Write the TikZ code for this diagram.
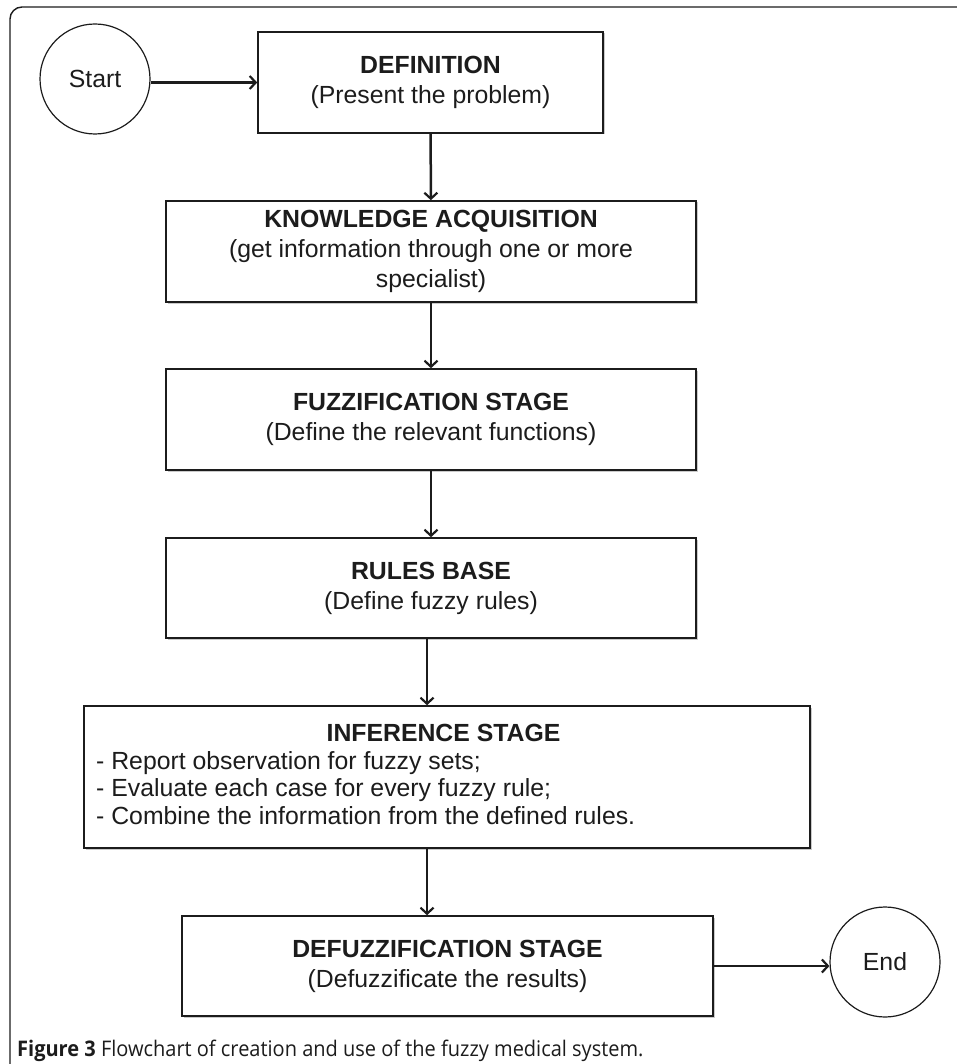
\documentclass[tikz,border=0pt]{standalone}
\usepackage{fontspec}
\setmainfont{Liberation Sans}
\newfontfamily\capfont[FakeStretch=0.93]{Open Sans}
\usetikzlibrary{arrows.meta,shadows,calc}
\definecolor{ink}{HTML}{1C1C1C}
\begin{document}
\begin{tikzpicture}[x=1pt,y=-1pt,
  box/.style={draw=ink, line width=1.6pt, fill=white, align=center, inner sep=0pt, text=ink,
    font=\fontsize{24.8}{30}\selectfont,
    drop shadow={shadow xshift=1.5pt, shadow yshift=-1.5pt, opacity=0.35, fill=black!60}},
  term/.style={circle, draw=ink, line width=1.2pt, minimum size=110pt, inner sep=0pt, text=ink,
    font=\fontsize{24.8}{30}\selectfont},
  arr/.style={draw=ink, line width=2.5pt, -{Straight Barb[length=6pt,width=13pt,line width=2.2pt]}},
  txt/.style={text=ink, inner sep=0pt, font=\fontsize{24.8}{27.5}\selectfont},
]
\useasboundingbox (0,0) rectangle (957,1064);
% outer frame
\draw[ink, line width=1.4pt, rounded corners=12pt] (960,7) -- (10,7) -- (10,1070);

\node[term] (start) at (95,79) {Start};
\node[box, minimum width=345pt, minimum height=101pt] (def) at (430.5,82.5)
  {\textbf{DEFINITION}\\(Present the problem)};
\node[box, minimum width=530pt, minimum height=101pt] (know) at (431,251.5)
  {\textbf{KNOWLEDGE ACQUISITION}\\(get information through one or more\\specialist)};
\node[box, minimum width=530pt, minimum height=101pt] (fuzz) at (431,419.5)
  {\textbf{FUZZIFICATION STAGE}\\(Define the relevant functions)};
\node[box, minimum width=530pt, minimum height=100pt] (rules) at (431,588)
  {\textbf{RULES BASE}\\(Define fuzzy rules)};
\node[box, minimum width=726pt, minimum height=142pt] (inf) at (447,777) {};
\node[txt, font=\fontsize{24.8}{27.5}\selectfont\bfseries] (inftitle) at (443.5,733) {INFERENCE STAGE};
\node[txt, anchor=west, align=left] (inflist) at (96,788)
  {- Report observation for fuzzy sets;\\- Evaluate each case for every fuzzy rule;\\- Combine the information from the defined rules.};
\node[box, minimum width=531pt, minimum height=100pt] (defz) at (447.5,966)
  {\textbf{DEFUZZIFICATION STAGE}\\(Defuzzificate the results)};
\node[term] (end) at (885,962) {End};

\coordinate (col) at (427,0);
\draw[arr] (def.west -| start.east) -- (def.west);
\draw[arr] (def) -- (know);
\draw[arr] (know) -- (fuzz);
\draw[arr] (fuzz) -- (rules);
\draw[arr] (rules.south -| col) -- (inf.north -| col);
\draw[arr] (inf.south -| col) -- (defz.north -| col);
\draw[arr] (defz.east) -- (defz.east -| end.west);

\node[anchor=base west, inner sep=0pt, text=ink, font=\capfont\fontsize{21.5}{24}\selectfont] (cap) at (17,1056)
  {\textbf{Figure 3} Flowchart of creation and use of the fuzzy medical system.};
\end{tikzpicture}
\end{document}
